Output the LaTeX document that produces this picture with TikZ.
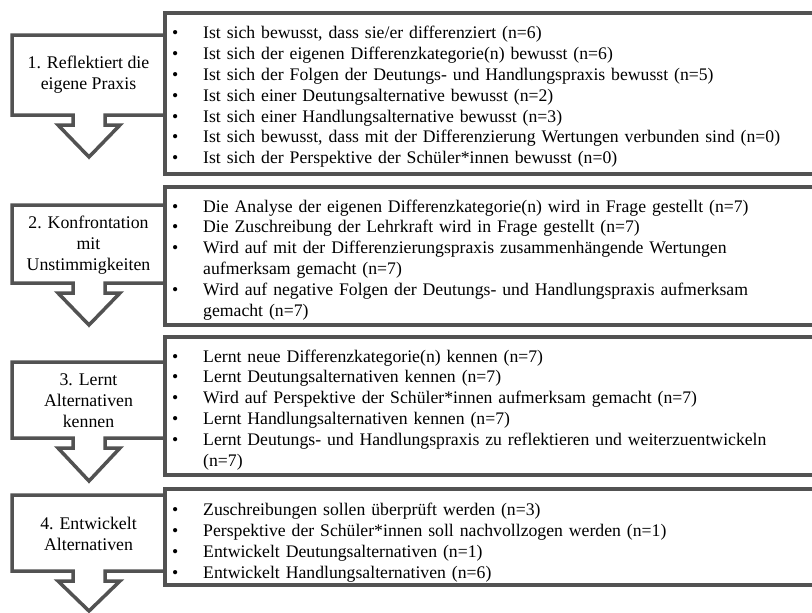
\documentclass[tikz,border=0pt]{standalone}
\usepackage{fontspec}
\setmainfont{Liberation Serif}
\definecolor{framegray}{gray}{0.32}
% one bullet line with hanging indent
\newcommand\bitem[1]{\par\hangindent=38pt\hangafter=1\noindent\rule{0pt}{14pt}\hspace*{7pt}\makebox[31pt][l]{\textbullet}#1}
\begin{document}
\begin{tikzpicture}[x=1pt,y=-1pt,
    frame/.style={draw=framegray,line width=3.5pt},
    stagetext/.style={align=center,inner sep=0pt,font=\fontsize{17.8}{21}\selectfont},
    listtext/.style={anchor=north west,inner sep=0pt,text width=640pt,align=left,font=\fontsize{17.7}{20.8}\selectfont}]
\useasboundingbox (0,0) rectangle (812,613);
\clip (0,0) rectangle (812,613);
% right boxes
\draw[frame] (165,13) rectangle (840,174);
\draw[frame] (165,187) rectangle (840,325);
\draw[frame] (165,337) rectangle (840,475);
\draw[frame] (165,489) rectangle (840,585);
% left boxes with arrows
\draw[frame] (12,35)--(165,35)--(165,115)--(105,115)--(105,125)--(120,125)--(89,157)--(58,125)--(73,125)--(73,115)--(12,115)--cycle;
\draw[frame] (12,205)--(165,205)--(165,283)--(105,283)--(105,293)--(120,293)--(89,325)--(58,293)--(73,293)--(73,283)--(12,283)--cycle;
\draw[frame] (12,362)--(165,362)--(165,438)--(105,438)--(105,448)--(120,448)--(89,481)--(58,448)--(73,448)--(73,438)--(12,438)--cycle;
\draw[frame] (12,495)--(165,495)--(165,571)--(105,571)--(105,581)--(120,581)--(89,611)--(58,581)--(73,581)--(73,571)--(12,571)--cycle;
% stage labels
\node[stagetext] (stage1) at (88.5,75) {1. Reflektiert die\\eigene Praxis};
\node[stagetext] (stage2) at (88.5,245) {2. Konfrontation\\mit\\Unstimmigkeiten};
\node[stagetext] (stage3) at (88.5,401) {3. Lernt\\Alternativen\\kennen};
\node[stagetext] (stage4) at (88.5,534) {4. Entwickelt\\Alternativen};
% bullet lists
\node[listtext] (list1) at (165,18) {%
\bitem{Ist sich bewusst, dass sie/er differenziert (n=6)}
\bitem{Ist sich der eigenen Differenzkategorie(n) bewusst (n=6)}
\bitem{Ist sich der Folgen der Deutungs- und Handlungspraxis bewusst (n=5)}
\bitem{Ist sich einer Deutungsalternative bewusst (n=2)}
\bitem{Ist sich einer Handlungsalternative bewusst (n=3)}
\bitem{Ist sich bewusst, dass mit der Differenzierung Wertungen verbunden sind (n=0)}
\bitem{Ist sich der Perspektive der Schüler*innen bewusst (n=0)}\par};
\node[listtext] (list2) at (165,191) {%
\bitem{Die Analyse der eigenen Differenzkategorie(n) wird in Frage gestellt (n=7)}
\bitem{Die Zuschreibung der Lehrkraft wird in Frage gestellt (n=7)}
\bitem{Wird auf mit der Differenzierungspraxis zusammenhängende Wertungen\newline aufmerksam gemacht (n=7)}
\bitem{Wird auf negative Folgen der Deutungs- und Handlungspraxis aufmerksam\newline gemacht (n=7)}\par};
\node[listtext] (list3) at (165,341) {%
\bitem{Lernt neue Differenzkategorie(n) kennen (n=7)}
\bitem{Lernt Deutungsalternativen kennen (n=7)}
\bitem{Wird auf Perspektive der Schüler*innen aufmerksam gemacht (n=7)}
\bitem{Lernt Handlungsalternativen kennen (n=7)}
\bitem{Lernt Deutungs- und Handlungspraxis zu reflektieren und weiterzuentwickeln\newline (n=7)}\par};
\node[listtext,font=\fontsize{17.7}{21}\selectfont] (list4) at (165,494) {%
\bitem{Zuschreibungen sollen überprüft werden (n=3)}
\bitem{Perspektive der Schüler*innen soll nachvollzogen werden (n=1)}
\bitem{Entwickelt Deutungsalternativen (n=1)}
\bitem{Entwickelt Handlungsalternativen (n=6)}\par};
\end{tikzpicture}
\end{document}
